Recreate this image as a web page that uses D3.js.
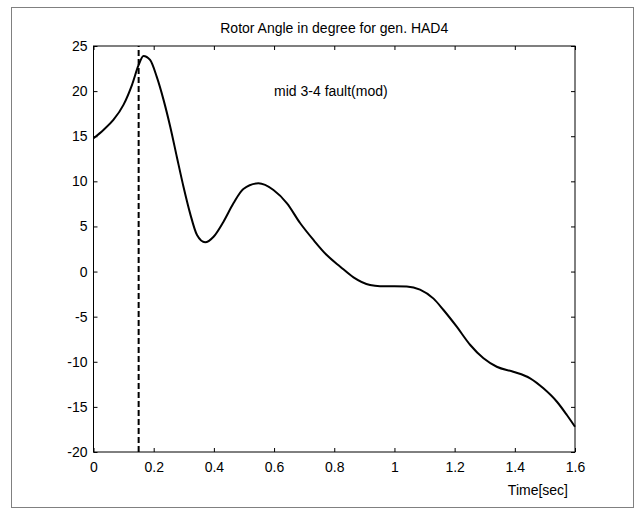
<!DOCTYPE html>
<html>
<head>
<meta charset="utf-8">
<script src="https://cdn.jsdelivr.net/npm/d3@7"></script>
<style>
    body { margin: 0; background: #fff; }
    svg text { font-family: "Liberation Sans", Arial, sans-serif; font-size: 14px; fill: #000; }
    .axis path, .axis line { stroke: #000; }
</style>
</head>
<body>
<script>
// Rotor angle trace
var timeValues = [0, 0.033, 0.066, 0.1, 0.128, 0.15, 0.166, 0.188, 0.21, 0.233, 0.255, 0.277,
    0.299, 0.321, 0.344, 0.371, 0.399, 0.432, 0.465, 0.498, 0.548, 0.598, 0.643, 0.687, 0.731,
    0.775, 0.82, 0.864, 0.919, 0.952, 1.0, 1.041, 1.085, 1.13, 1.163, 1.207, 1.252, 1.296, 1.34,
    1.395, 1.451, 1.495, 1.54, 1.573, 1.6];
var angleValues = [14.77, 15.7, 16.8, 18.5, 20.7, 22.9, 23.9, 23.45, 21.6, 19.0, 16.05, 12.7,
    9.4, 6.45, 4.05, 3.24, 3.86, 5.53, 7.56, 9.15, 9.78, 9.04, 7.56, 5.35, 3.5,
    1.83, 0.54, -0.64, -1.5, -1.62, -1.62, -1.65, -2.0, -3.0, -4.26, -6.11, -8.14, -9.62, -10.55,
    -11.1, -11.83, -12.94, -14.43, -15.9, -17.2];
var xTicks = [0, 0.2, 0.4, 0.6, 0.8, 1, 1.2, 1.4, 1.6];
var yTicks = [-20, -15, -10, -5, 0, 5, 10, 15, 20, 25];
var faultClear = 0.15;
var titleText = "Rotor Angle in degree for gen. HAD4";
var noteText = "mid 3-4 fault(mod)";
var notePos = [0.6, 20];
var xLabelText = "Time[sec]";

function init() {
    var w = 637;
    var h = 509;
    var left = 93.5, right = 575, top = 46, bottom = 452;

    var dataset = timeValues.map(function(t, i) {
        return { t: t, v: angleValues[i] };
    });

    var svg = d3.select("body")
        .append("svg")
        .attr("width", w)
        .attr("height", h);

    // figure frame
    svg.append("rect")
        .attr("x", 11.5)
        .attr("y", 7.5)
        .attr("width", 622)
        .attr("height", 500)
        .attr("fill", "none")
        .attr("stroke", "#808080");

    var xScale = d3.scaleLinear().domain([0, 1.6]).range([left, right]);
    var yScale = d3.scaleLinear().domain([-20, 25]).range([bottom, top]);

    // ticks on all four sides, pointing inwards
    svg.append("g")
        .attr("class", "axis")
        .attr("transform", "translate(0," + bottom + ")")
        .call(d3.axisBottom(xScale).tickValues(xTicks).tickSize(-4).tickPadding(10)
            .tickFormat(function(d) { return String(d); }))
        .call(function(g) { g.select(".domain").remove(); })
        .selectAll("text").attr("font-size", null);

    svg.append("g")
        .attr("class", "axis")
        .attr("transform", "translate(" + left + ",0)")
        .call(d3.axisLeft(yScale).tickValues(yTicks).tickSize(-4).tickPadding(6)
            .tickFormat(function(d) { return String(d); }))
        .call(function(g) { g.select(".domain").remove(); })
        .selectAll("text").attr("font-size", null);

    svg.append("g")
        .attr("class", "axis")
        .attr("transform", "translate(0," + top + ")")
        .call(d3.axisTop(xScale).tickValues(xTicks).tickSize(-4).tickFormat(""))
        .call(function(g) { g.select(".domain").remove(); });

    svg.append("g")
        .attr("class", "axis")
        .attr("transform", "translate(" + right + ",0)")
        .call(d3.axisRight(yScale).tickValues(yTicks).tickSize(-4).tickFormat(""))
        .call(function(g) { g.select(".domain").remove(); });

    svg.selectAll(".axis g text").attr("font-family", null);

    // axes box
    svg.append("rect")
        .attr("x", left)
        .attr("y", top)
        .attr("width", right - left)
        .attr("height", bottom - top)
        .attr("fill", "none")
        .attr("stroke", "#000");

    // fault clearing marker
    svg.append("line")
        .attr("x1", xScale(faultClear))
        .attr("x2", xScale(faultClear))
        .attr("y1", yScale(-20))
        .attr("y2", yScale(25))
        .attr("stroke", "#000")
        .attr("stroke-width", 2)
        .attr("stroke-dasharray", "6,3");

    var line = d3.line()
        .x(function(d) { return xScale(d.t); })
        .y(function(d) { return yScale(d.v); })
        .curve(d3.curveMonotoneX);

    svg.append("path")
        .datum(dataset)
        .attr("d", line)
        .attr("fill", "none")
        .attr("stroke", "#000")
        .attr("stroke-width", 2);

    svg.append("text")
        .attr("x", (left + right) / 2)
        .attr("y", top - 13)
        .attr("text-anchor", "middle")
        .text(titleText);

    svg.append("text")
        .attr("x", xScale(notePos[0]))
        .attr("y", yScale(notePos[1]))
        .attr("dy", "0.35em")
        .text(noteText);

    svg.append("text")
        .attr("x", 568)
        .attr("y", 495)
        .attr("text-anchor", "end")
        .text(xLabelText);
}

window.onload = init;
</script>
</body>
</html>
